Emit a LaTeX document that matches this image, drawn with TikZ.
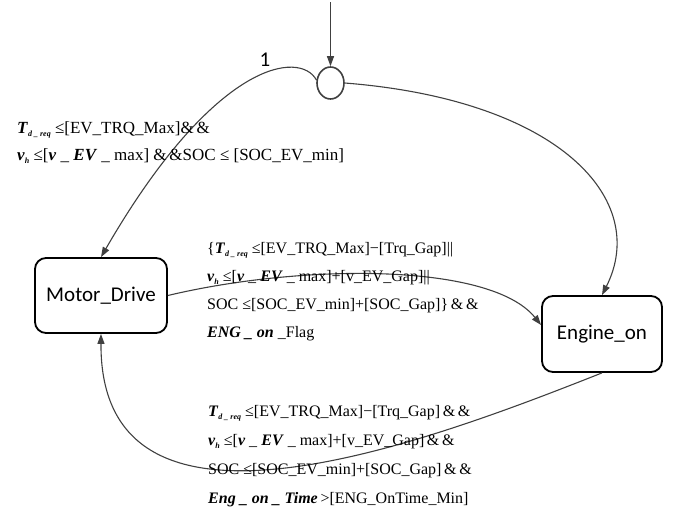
\documentclass[tikz,border=0pt]{standalone}
\usepackage{fontspec}
\setmainfont{Liberation Serif}
\newfontfamily\statefont{Carlito}
\usetikzlibrary{arrows.meta,shapes.geometric}

% bold italic variable and its lowered subscript
\newcommand{\bv}[1]{\textbf{\textit{#1}}}
\newcommand{\sbv}[1]{\raisebox{-0.45ex}{\fontsize{8}{8}\selectfont\bfseries\itshape #1}}

\tikzset{
  statebox/.style={draw=black, line width=1.8pt, rounded corners=11pt, fill=white,
    font=\statefont\fontsize{21}{21}\selectfont, inner sep=0pt},
  initstate/.style={draw=black!75, line width=1.6pt, ellipse, inner sep=0pt,
    minimum width=27pt, minimum height=32pt},
  trans/.style={draw=black!75, line width=1.1pt, -{Triangle[length=10pt,width=7pt]}},
  guard/.style={anchor=base west, align=left, inner sep=0pt,
    font=\fontsize{16}{28}\selectfont},
}

\begin{document}
\begin{tikzpicture}[x=1pt, y=-1pt]
\useasboundingbox (0,0) rectangle (681,514);

% states
\node[initstate] (init) at (330.5,83) {};
\node[statebox, minimum width=132pt, minimum height=75pt] (md) at (101,295.5) {Motor\_Drive};
\node[statebox, minimum width=120pt, minimum height=76pt] (eo) at (602,334) {Engine\_on};
\coordinate (entry) at (330.5,2);

% transitions
\draw[trans] (entry) -- (init.north);
\draw[trans] (init.168) .. controls (300,50) and (215,60) .. (md.north);
\draw[trans] (init.east) .. controls (560,100) and (650,200) .. (eo.north);
\draw[trans] (md.east) .. controls (300,264) and (490,262) .. ([yshift=9pt]eo.west);
\draw[trans] (eo.south) .. controls (420,445) and (100,565) .. (md.south);

% transition priority
\node[font=\statefont\fontsize{21}{21}\selectfont, inner sep=0pt] (prio) at (265,60) {1};

% guards (anchored at the baseline of their last line)
\node[guard, font=\fontsize{17}{27}\selectfont] (g1) at (17,160) {%
\bv{T}\sbv{d \_ req} ≤[EV\_TRQ\_Max]\&\,\&\\
\bv{v}\sbv{h} ≤[\bv{v} \_ \bv{EV} \_ max] \&\,\&SOC ≤ [SOC\_EV\_min]};

\node[guard] (g2) at (207,337) {%
\{\bv{T}\sbv{d \_ req} ≤[EV\_TRQ\_Max]−[Trq\_Gap]||\\
\bv{v}\sbv{h} ≤[\bv{v} \_ \bv{EV} \_ max]+[v\_EV\_Gap]||\\
SOC ≤[SOC\_EV\_min]+[SOC\_Gap]\}\,\&\,\&\\
\bv{ENG \_ on} \_Flag};

\node[guard, font=\fontsize{16}{29}\selectfont] (g3) at (208,503) {%
\bv{T}\sbv{d \_ req} ≤[EV\_TRQ\_Max]−[Trq\_Gap]\,\&\,\&\\
\bv{v}\sbv{h} ≤[\bv{v} \_ \bv{EV} \_ max]+[v\_EV\_Gap]\,\&\,\&\\
SOC ≤[SOC\_EV\_min]+[SOC\_Gap]\,\&\,\&\\
\bv{Eng \_ on \_ Time}\,>[ENG\_OnTime\_Min]};
\end{tikzpicture}
\end{document}
